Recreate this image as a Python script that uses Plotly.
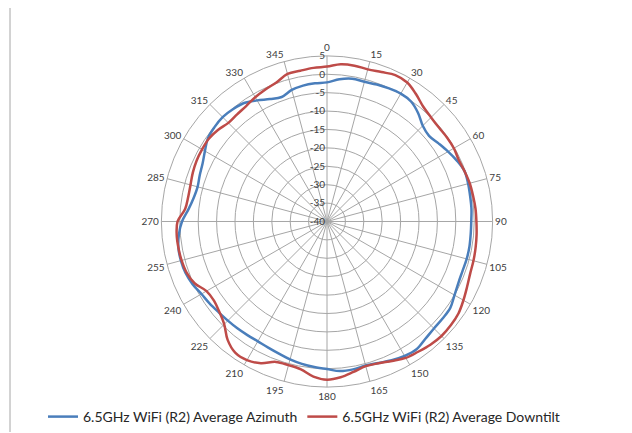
import plotly.graph_objects as go

angles = list(range(0, 360, 5))

azimuth = [
    -2.2, -1.2, -0.6, -0.7, -0.4, -0.1, 0.1, -0.2, -1.5, -3.2,   # 0-45
    -3.8, -3.0, -2.0, -1.0, -0.2, -0.3, -0.5, -0.6, -0.8, -0.8,  # 50-95
    -0.7, -0.7, -0.8, -0.6, 0.0, 0.9, 1.0, 1.1, 1.6, 2.4,       # 100-145
    2.2, 1.6, 0.9, 0.5, 0.8, 0.8, 0.1, -0.3, -0.7, -1.2,        # 150-195
    -1.8, -2.2, -2.4, -2.3, -2.1, -1.9, -1.6, -1.1, -0.6, 0.3,  # 200-245
    0.9, 1.1, 1.0, 0.4, -0.6, -2.2, -3.2, -3.6, -3.2, -2.7,     # 250-295
    -1.7, -0.5, -0.1, 0.1, -0.2, -0.7, -2.0, -3.3, -4.0, -3.0,  # 300-345
    -2.5, -2.3,                                                  # 350-355
]

downtilt = [
    2.1, 2.9, 3.0, 2.8, 3.2, 3.9, 3.6, 2.2, 0.7, 0.0,           # 0-45
    -0.3, -0.2, -0.2, -0.5, -0.2, 0.15, 0.3, 0.5, 0.6, 0.8,     # 50-95
    1.0, 1.2, 1.4, 2.0, 2.8, 3.6, 3.9, 4.0, 3.7, 3.2,           # 100-145
    2.8, 1.8, 1.0, 0.7, 1.5, 2.5, 3.0, 2.3, 0.8, 0.4,           # 150-195
    0.6, 2.5, 3.5, 3.5, 2.0, -0.5, -1.8, -2.5, -2.2, -0.3,      # 200-245
    0.6, 0.9, 1.0, 1.0, 0.6, -1.3, -1.7, -1.6, -1.2, -0.9,      # 250-295
    -0.8, -0.8, -1.3, -2.1, -2.0, -1.7, -1.0, -0.4, 0.2, 1.5,   # 300-345
    1.6, 1.9,                                                    # 350-355
]

angle_ticks = list(range(0, 360, 15))
angle_labels = [str(a) for a in angle_ticks]
radial_ticks = list(range(-40, 10, 5))
radial_labels = [str(v) for v in radial_ticks]

series_names = ["6.5GHz WiFi (R2) Average Azimuth", "6.5GHz WiFi (R2) Average Downtilt"]
series_colors = ["#4A7EBB", "#BE4B48"]

fig = go.Figure()
for name, vals, col in zip(series_names, [azimuth, downtilt], series_colors):
    fig.add_trace(go.Scatterpolar(
        theta=angles + [angles[0]],
        r=vals + [vals[0]],
        mode="lines",
        name=name,
        line=dict(color=col, width=2.5, shape="spline", smoothing=1.0),
    ))

# page body has an 8px margin; figure sized to fill the rest of the window
W, H = 624, 425
cx, cy, R = 319, 214, 166
grid = "#A6A6A6"
fig.update_layout(
    width=W, height=H,
    margin=dict(l=0, r=0, t=0, b=0),
    paper_bgcolor="white",
    font=dict(family="Lato", color="#404040"),
    polar=dict(
        domain=dict(x=[(cx - R) / W, (cx + R) / W],
                    y=[(H - cy - R) / H, (H - cy + R) / H]),
        bgcolor="white",
        angularaxis=dict(
            rotation=90, direction="clockwise",
            tickmode="array", tickvals=angle_ticks, ticktext=angle_labels,
            showgrid=True, gridcolor=grid, gridwidth=1,
            showline=True, linecolor=grid, linewidth=1,
            ticks="", tickfont=dict(size=10, color="#404040"),
        ),
        radialaxis=dict(
            range=[-40, 5], angle=90, side="counterclockwise", tickangle=90,
            tickmode="array", tickvals=radial_ticks, ticktext=radial_labels,
            showgrid=True, gridcolor=grid, gridwidth=1,
            showline=False, ticks="",
            tickfont=dict(size=10, color="#404040"),
        ),
    ),
    legend=dict(
        orientation="h", x=296 / W, xanchor="center", y=(H - 410) / H, yanchor="middle",
        font=dict(family="Lato", size=14, color="#262626"),
        itemwidth=30, bgcolor="rgba(0,0,0,0)",
    ),
    shapes=[dict(type="line", xref="paper", yref="paper",
                 x0=2 / W, x1=2 / W, y0=0, y1=1,
                 line=dict(color="#A6A6A6", width=1))],
)

fig.write_html("out.html")
